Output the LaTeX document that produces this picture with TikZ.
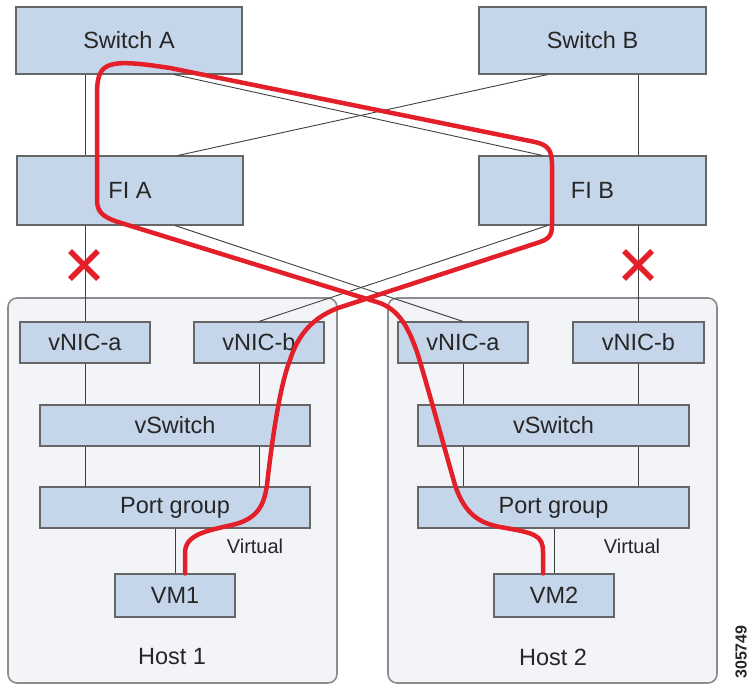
\documentclass[tikz,border=0pt]{standalone}
\usepackage{fontspec}
\setmainfont{Liberation Sans}
\begin{document}
\begin{tikzpicture}[x=1pt,y=-1pt,
  box/.style={draw=black!60, line width=1.1pt, fill=boxblue, inner sep=0pt, font=\fontsize{23.5}{27}\selectfont, text=black!85},
  host/.style={draw=black!45, line width=1.6pt, fill=hostfill, rounded corners=9pt},
  thin/.style={draw=black!75, line width=0.9pt},
  redpath/.style={draw=cred, line width=4.5pt, line cap=round, line join=round},
  xmark/.style={draw=cred, line width=5.5pt},
  lbl/.style={font=\fontsize{23.5}{27}\selectfont, text=black!85, inner sep=0pt},
  smalllbl/.style={font=\fontsize{20}{24}\selectfont, text=black!85, inner sep=0pt}]
\definecolor{boxblue}{HTML}{C5D6EA}
\definecolor{hostfill}{HTML}{F3F4F8}
\definecolor{cred}{HTML}{E3202A}
\useasboundingbox (0,0) rectangle (750,685);
\fill[white] (0,0) rectangle (750,685);
% hosts
\node[host, minimum width=329pt, minimum height=385pt] (h1) at (172.5,490.5) {};
\node[host, minimum width=329pt, minimum height=385pt] (h2) at (552.5,490.5) {};
% top boxes
\node[box, minimum width=226pt, minimum height=67pt] (swA) at (129,40.5) {Switch A};
\node[box, minimum width=227pt, minimum height=67pt] (swB) at (592.5,40.5) {Switch B};
\node[box, minimum width=226pt, minimum height=69pt] (fiA) at (130,190.5) {FI A};
\node[box, minimum width=227pt, minimum height=69pt] (fiB) at (592.5,190.5) {FI B};
% host 1
\node[box, minimum width=130pt, minimum height=41pt] (na1) at (85,342.5) {vNIC-a};
\node[box, minimum width=130pt, minimum height=41pt] (nb1) at (259,342.5) {vNIC-b};
\node[box, minimum width=270pt, minimum height=41pt] (vs1) at (175,425.5) {vSwitch};
\node[box, minimum width=270pt, minimum height=41pt] (pg1) at (175,507.5) {Port group};
\node[box, minimum width=120pt, minimum height=43pt] (vm1) at (175,595.5) {VM1};
% host 2
\node[box, minimum width=130pt, minimum height=41pt] (na2) at (463,342.5) {vNIC-a};
\node[box, minimum width=131pt, minimum height=41pt] (nb2) at (638.5,342.5) {vNIC-b};
\node[box, minimum width=271pt, minimum height=41pt] (vs2) at (553.5,425.5) {vSwitch};
\node[box, minimum width=271pt, minimum height=41pt] (pg2) at (553.5,507.5) {Port group};
\node[box, minimum width=120pt, minimum height=43pt] (vm2) at (554,595.5) {VM2};
% labels
\node[smalllbl] (v1) at (255,546) {Virtual};
\node[smalllbl] (v2) at (632,546) {Virtual};
\node[lbl] (hl1) at (172,657) {Host 1};
\node[lbl] (hl2) at (553,657) {Host 2};
\node[font=\fontsize{16}{18}\selectfont\bfseries, text=black!85, rotate=90, inner sep=0pt] (fig) at (741,652) {305749};
% thin connectors
\draw[thin] (swA.south -| na1.north) -- (fiA.north -| na1.north);
\draw[thin] (fiA.south -| na1.north) -- (na1.north);
\draw[thin] (swB.south -| nb2.north) -- (fiB.north -| nb2.north);
\draw[thin] (fiB.south -| nb2.north) -- (nb2.north);
\draw[thin] ([xshift=45pt]swA.south) -- ([xshift=-50pt]fiB.north);
\draw[thin] ([xshift=-45pt]swB.south) -- ([xshift=48pt]fiA.north);
\draw[thin] ([xshift=45pt]fiA.south) -- (na2.north);
\draw[thin] ([xshift=-45pt]fiB.south) -- (nb1.north);
\draw[thin] (na1.south) -- (na1.south |- vs1.north);
\draw[thin] (nb1.south) -- (nb1.south |- vs1.north);
\draw[thin] (vs1.south -| na1.south) -- (pg1.north -| na1.south);
\draw[thin] (vs1.south -| nb1.south) -- (pg1.north -| nb1.south);
\draw[thin] (pg1.south) -- (vm1.north);
\draw[thin] (na2.south) -- (na2.south |- vs2.north);
\draw[thin] (nb2.south) -- (nb2.south |- vs2.north);
\draw[thin] (vs2.south -| na2.south) -- (pg2.north -| na2.south);
\draw[thin] (vs2.south -| nb2.south) -- (pg2.north -| nb2.south);
\draw[thin] (pg2.south -| vm2.north) -- (vm2.north);
% X marks
\coordinate (xa) at (84,265);
\coordinate (xb) at (638,265);
\draw[xmark] ([shift={(-14pt,-14pt)}]xa) -- ([shift={(14pt,14pt)}]xa) ([shift={(-14pt,14pt)}]xa) -- ([shift={(14pt,-14pt)}]xa);
\draw[xmark] ([shift={(-14pt,-14pt)}]xb) -- ([shift={(14pt,14pt)}]xb) ([shift={(-14pt,14pt)}]xb) -- ([shift={(14pt,-14pt)}]xb);
% red traffic path
\draw[redpath] ([xshift=10pt]vm1.north) -- (185,553)
 .. controls (185,535) and (205,531) .. (232,525)
 .. controls (258,519) and (264,505) .. (267,485)
 .. controls (272,440) and (280,385) .. (290,360)
 .. controls (298,335) and (312,318) .. (338,308)
 -- (540,242)
 .. controls (552,238) and (552,232) .. (552,222)
 -- (552,165)
 .. controls (552,150) and (548,145) .. (535,142)
 -- (170,68)
 .. controls (105,58) and (97,62) .. (97,95)
 -- (97,200)
 .. controls (97,212) and (103,217) .. (118,222)
 -- (380,303)
 .. controls (398,310) and (408,325) .. (418,355)
 .. controls (430,395) and (445,450) .. (455,485)
 .. controls (465,515) and (480,523) .. (500,527)
 .. controls (535,533) and (543,535) .. (543,552)
 -- ([xshift=-11pt]vm2.north);
\end{tikzpicture}
\end{document}
